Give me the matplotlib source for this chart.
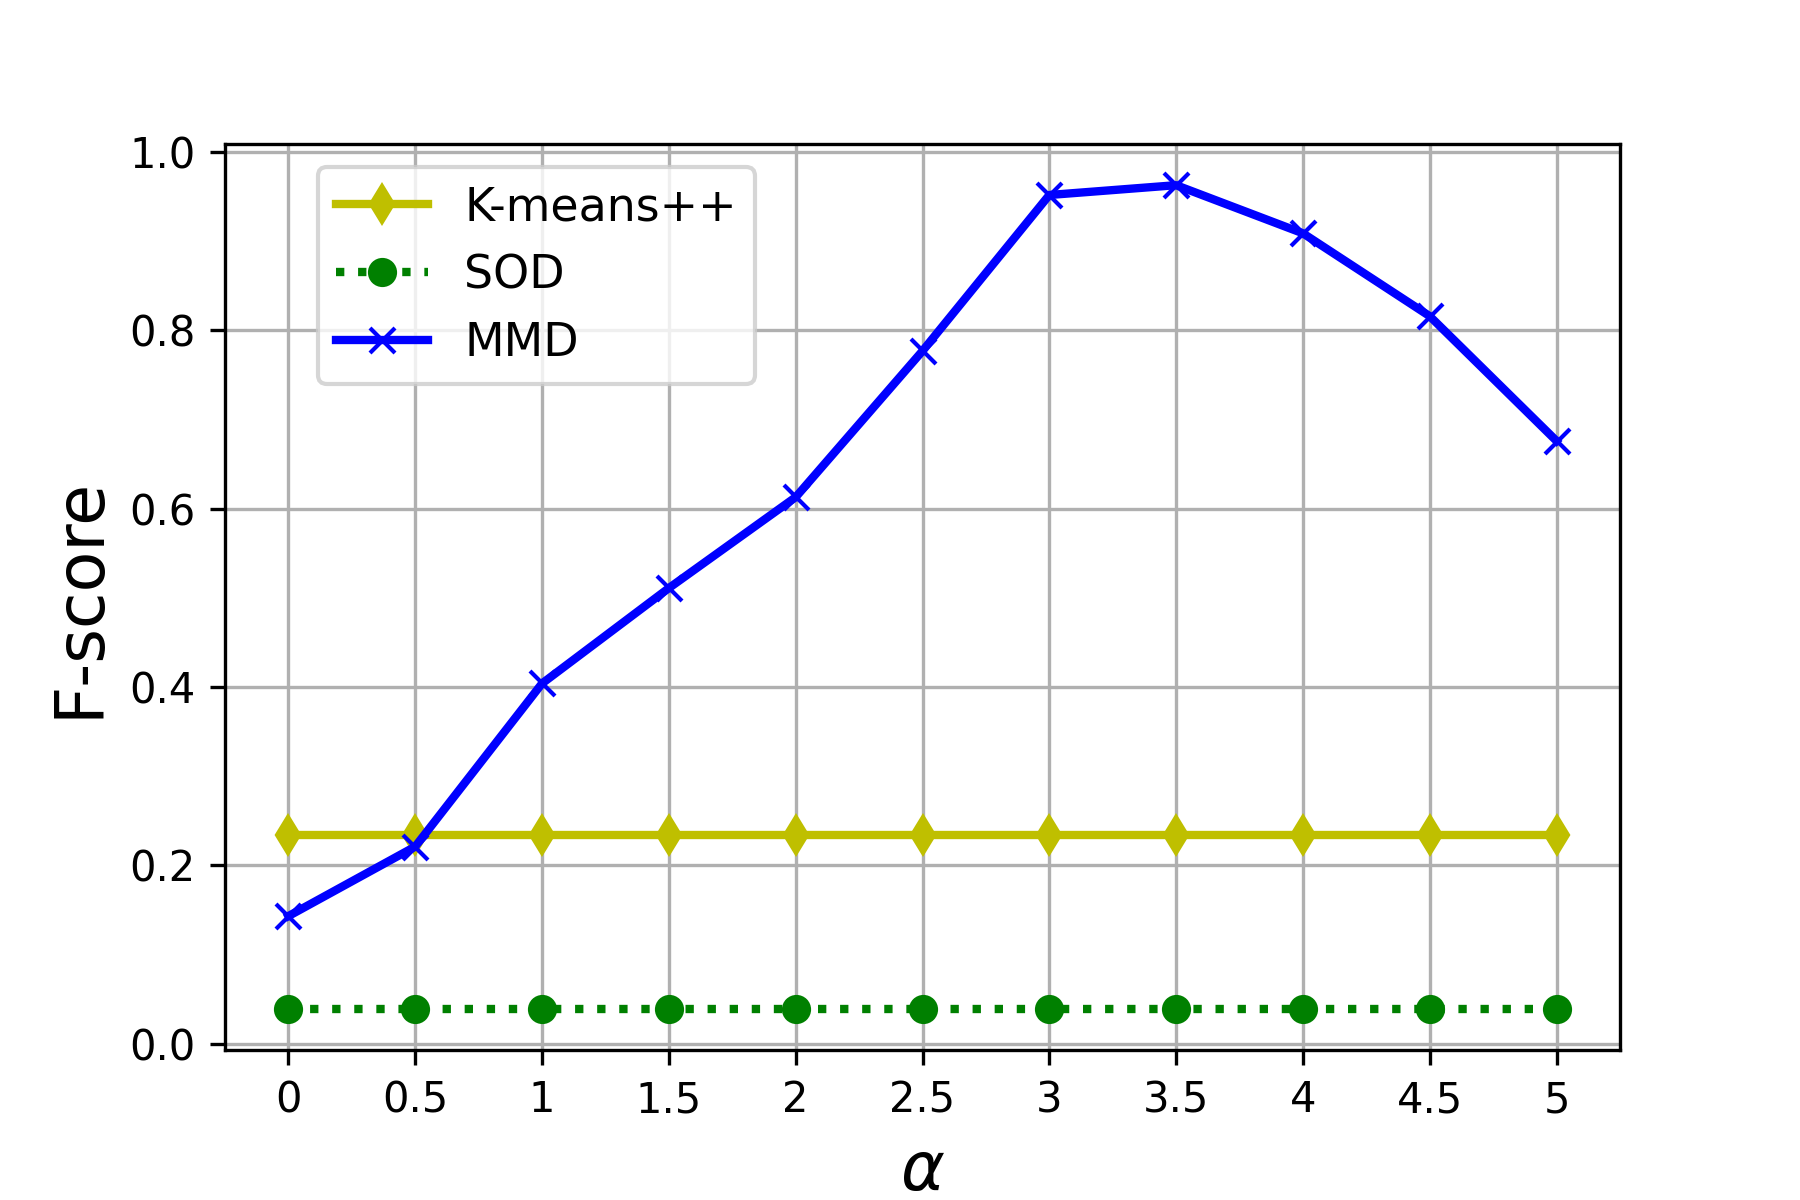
import matplotlib
matplotlib.use('Agg')
import matplotlib.pyplot as plt

# alpha values and F-score per method
alpha        = [0, 0.5, 1, 1.5, 2, 2.5, 3, 3.5, 4, 4.5, 5]
alpha_labels = ['0', '0.5', '1', '1.5', '2', '2.5', '3', '3.5', '4', '4.5', '5']
kmeans_pp    = [0.234] * 11
sod          = [0.039] * 11
mmd          = [0.143, 0.221, 0.404, 0.511, 0.613, 0.777, 0.952, 0.963, 0.909, 0.816, 0.676]

fig, ax = plt.subplots(figsize=(6, 4), dpi=300)
fig.subplots_adjust(left=0.125, right=0.9, top=0.88, bottom=0.125)

ax.plot(alpha, kmeans_pp, color='y', marker='d', linestyle='-', linewidth=2, label='K-means++')
ax.plot(alpha, sod, color='g', marker='o', linestyle=':', linewidth=2, label='SOD')
ax.plot(alpha, mmd, color='b', marker='x', linestyle='-', linewidth=2, label='MMD')

ax.set_xticks(alpha)
ax.set_xticklabels(alpha_labels)
ax.set_xlabel(r'$\alpha$', fontsize=16)
ax.set_ylabel('F-score', fontsize=16)
ax.grid(True)
ax.legend(loc='upper left', bbox_to_anchor=(0.05, 1), fontsize=11)

fig.savefig('out.png', dpi=300)
